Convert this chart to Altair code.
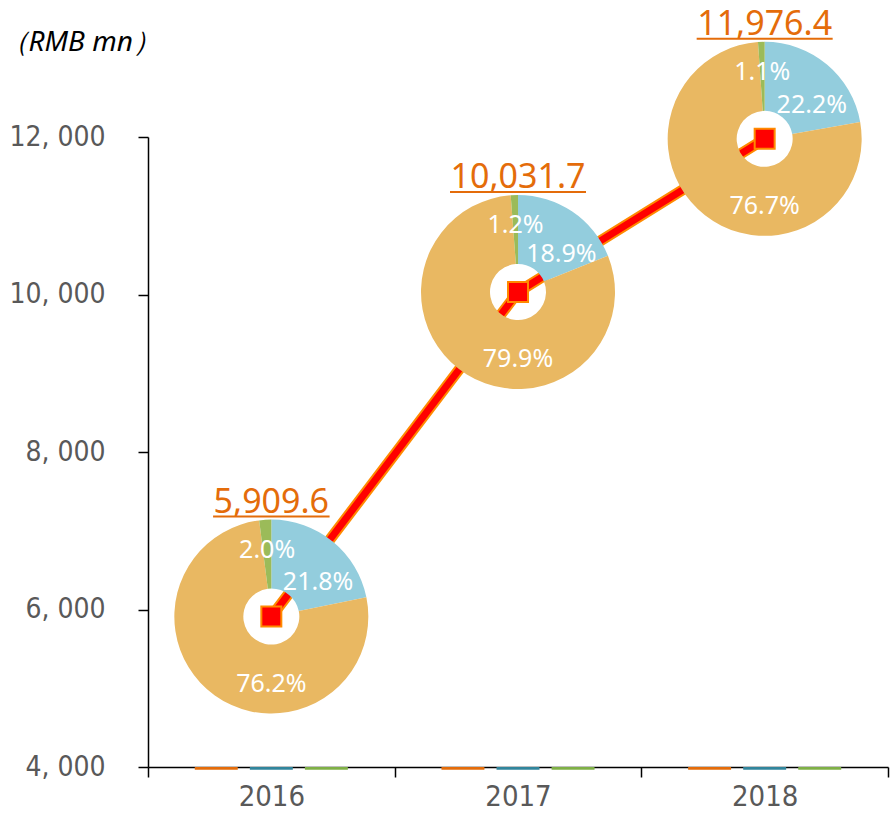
import altair as alt
import pandas as pd

# ---- data ----
years = ["2016", "2017", "2018"]
totals = [5909.6, 10031.7, 11976.4]
total_labels = ["5,909.6", "10,031.7", "11,976.4"]

segments = ["Segment A", "Segment B", "Segment C"]   # clockwise from 12 o'clock
share_a = [21.8, 18.9, 22.2]   # light blue
share_b = [76.2, 79.9, 76.7]   # tan
share_c = [2.0, 1.2, 1.1]      # green
share_labels_a = ["21.8%", "18.9%", "22.2%"]
share_labels_b = ["76.2%", "79.9%", "76.7%"]
share_labels_c = ["2.0%", "1.2%", "1.1%"]

bar_series = ["Series 1", "Series 2", "Series 3"]
y_ticks = [4000, 6000, 8000, 10000, 12000]

seg_colors = ["#93CDDD", "#E9B862", "#9BBB59"]
bar_colors = ["#E46C0A", "#31859C", "#7FB046"]
ORANGE = "#E46C0A"
LINE_EDGE = "#FF8A00"

# ---- tables ----
df_tot = pd.DataFrame({"year": years, "total": totals, "label": total_labels})

rows = []
for i, y in enumerate(years):
    shares = [share_a[i], share_b[i], share_c[i]]
    labs = [share_labels_a[i], share_labels_b[i], share_labels_c[i]]
    cum = 0.0
    for k, s in enumerate(segments):
        rows.append({"year": y, "total": totals[i], "segment": s, "order": k,
                     "share": shares[k], "start": cum, "end": cum + shares[k],
                     "plabel": labs[k]})
        cum += shares[k]
df_pie = pd.DataFrame(rows)

df_bars = pd.DataFrame([{"year": y, "series": s} for y in years for s in bar_series])

FONT = "Noto Sans"
AXFONT = "Liberation Sans Narrow, DejaVu Sans Condensed, Noto Sans, sans-serif"

x_enc = alt.X("year:N", sort=years,
              scale=alt.Scale(paddingInner=0, paddingOuter=0),
              axis=alt.Axis(title=None, labelAngle=0, tickBand="extent",
                            tickSize=10, tickColor="black", tickWidth=1.5,
                            domainColor="black", domainWidth=1.5,
                            labelFont=AXFONT, labelFontSize=29,
                            labelColor="#595959", labelPadding=5))
y_enc = alt.Y("total:Q", stack=False,
              scale=alt.Scale(domain=[4000, 12000], nice=False, zero=False),
              axis=alt.Axis(values=y_ticks, grid=False,
                            labelExpr="replace(format(datum.value, ','), ',', ', ')",
                            tickSize=10, tickColor="black", tickWidth=1.5,
                            domainColor="black", domainWidth=1.5,
                            labelFont=AXFONT, labelFontSize=28,
                            labelColor="#595959", labelPadding=33,
                            title="（RMB mn）", titleAngle=0,
                            titleX=-148, titleY=-95, titleAlign="left",
                            titleBaseline="middle", titleFont=FONT,
                            titleFontStyle="italic", titleFontWeight="normal",
                            titleFontSize=28, titleColor="black"))

theta_scale = alt.Scale(domain=[0, 100], range=[0, 6.283185307])

dashes = alt.Chart(df_bars).mark_bar().encode(
    x=x_enc,
    xOffset=alt.XOffset("series:N", sort=bar_series,
                        scale=alt.Scale(paddingInner=0.22, paddingOuter=0.85)),
    y=alt.datum(4000),
    y2=alt.datum(3966),
    color=alt.Color("series:N", sort=bar_series,
                    scale=alt.Scale(domain=bar_series, range=bar_colors),
                    legend=None),
)

base_tot = alt.Chart(df_tot)
line_outline = base_tot.mark_line(color=LINE_EDGE, strokeWidth=11, strokeCap="butt").encode(x=x_enc, y=y_enc)
line_red = base_tot.mark_line(color="#FF0000", strokeWidth=7, strokeCap="butt").encode(x=x_enc, y=y_enc)

donut = alt.Chart(df_pie).mark_arc(radius=97, innerRadius=28).encode(
    x=x_enc, y=y_enc,
    theta=alt.Theta("start:Q", scale=theta_scale, stack=False),
    theta2="end:Q",
    fill=alt.Fill("segment:N", sort=segments,
                  scale=alt.Scale(domain=segments, range=seg_colors), legend=None),
)

squares = base_tot.mark_square(size=400, color="#FF0000", opacity=1,
                               stroke=LINE_EDGE, strokeWidth=2).encode(x=x_enc, y=y_enc)

plabels = alt.Chart(df_pie).transform_calculate(
    lt="datum.order == 1 ? 50 : (datum.order == 0 ? (datum.start + datum.end) / 2 + 4 : (datum.start + datum.end) / 2)",
    lr="datum.order == 0 ? 58 : 67",
).mark_text(color="white", font=FONT, fontSize=25, align="center", baseline="middle").encode(
    x=x_enc, y=y_enc,
    theta=alt.Theta("lt:Q", scale=theta_scale, stack=False),
    radius=alt.Radius("lr:Q", scale=None),
    text="plabel:N",
)

vlabels = base_tot.mark_text(color=ORANGE, font=FONT, fontSize=34, align="center",
                             baseline="middle", dy=-114).encode(
    x=x_enc, y=y_enc, text="label:N")

underline = base_tot.transform_calculate(
    ulen="(length(datum.label) - 2) * 19.5 + 2 * 9.5"
).mark_tick(orient="horizontal", thickness=2, color=ORANGE, yOffset=-100, opacity=1).encode(
    x=x_enc, y=y_enc, size=alt.Size("ulen:Q", scale=None))

chart = alt.layer(dashes, line_outline, line_red, donut, squares, plabels, vlabels, underline).properties(
    width=740, height=630,
    autosize=alt.AutoSizeParams(type="none"),
    padding={"left": 148, "top": 137, "right": 6, "bottom": 46},
    background="white",
).configure_view(stroke=None)

chart.save("out.html", embed_options={"renderer": "svg", "actions": False})
